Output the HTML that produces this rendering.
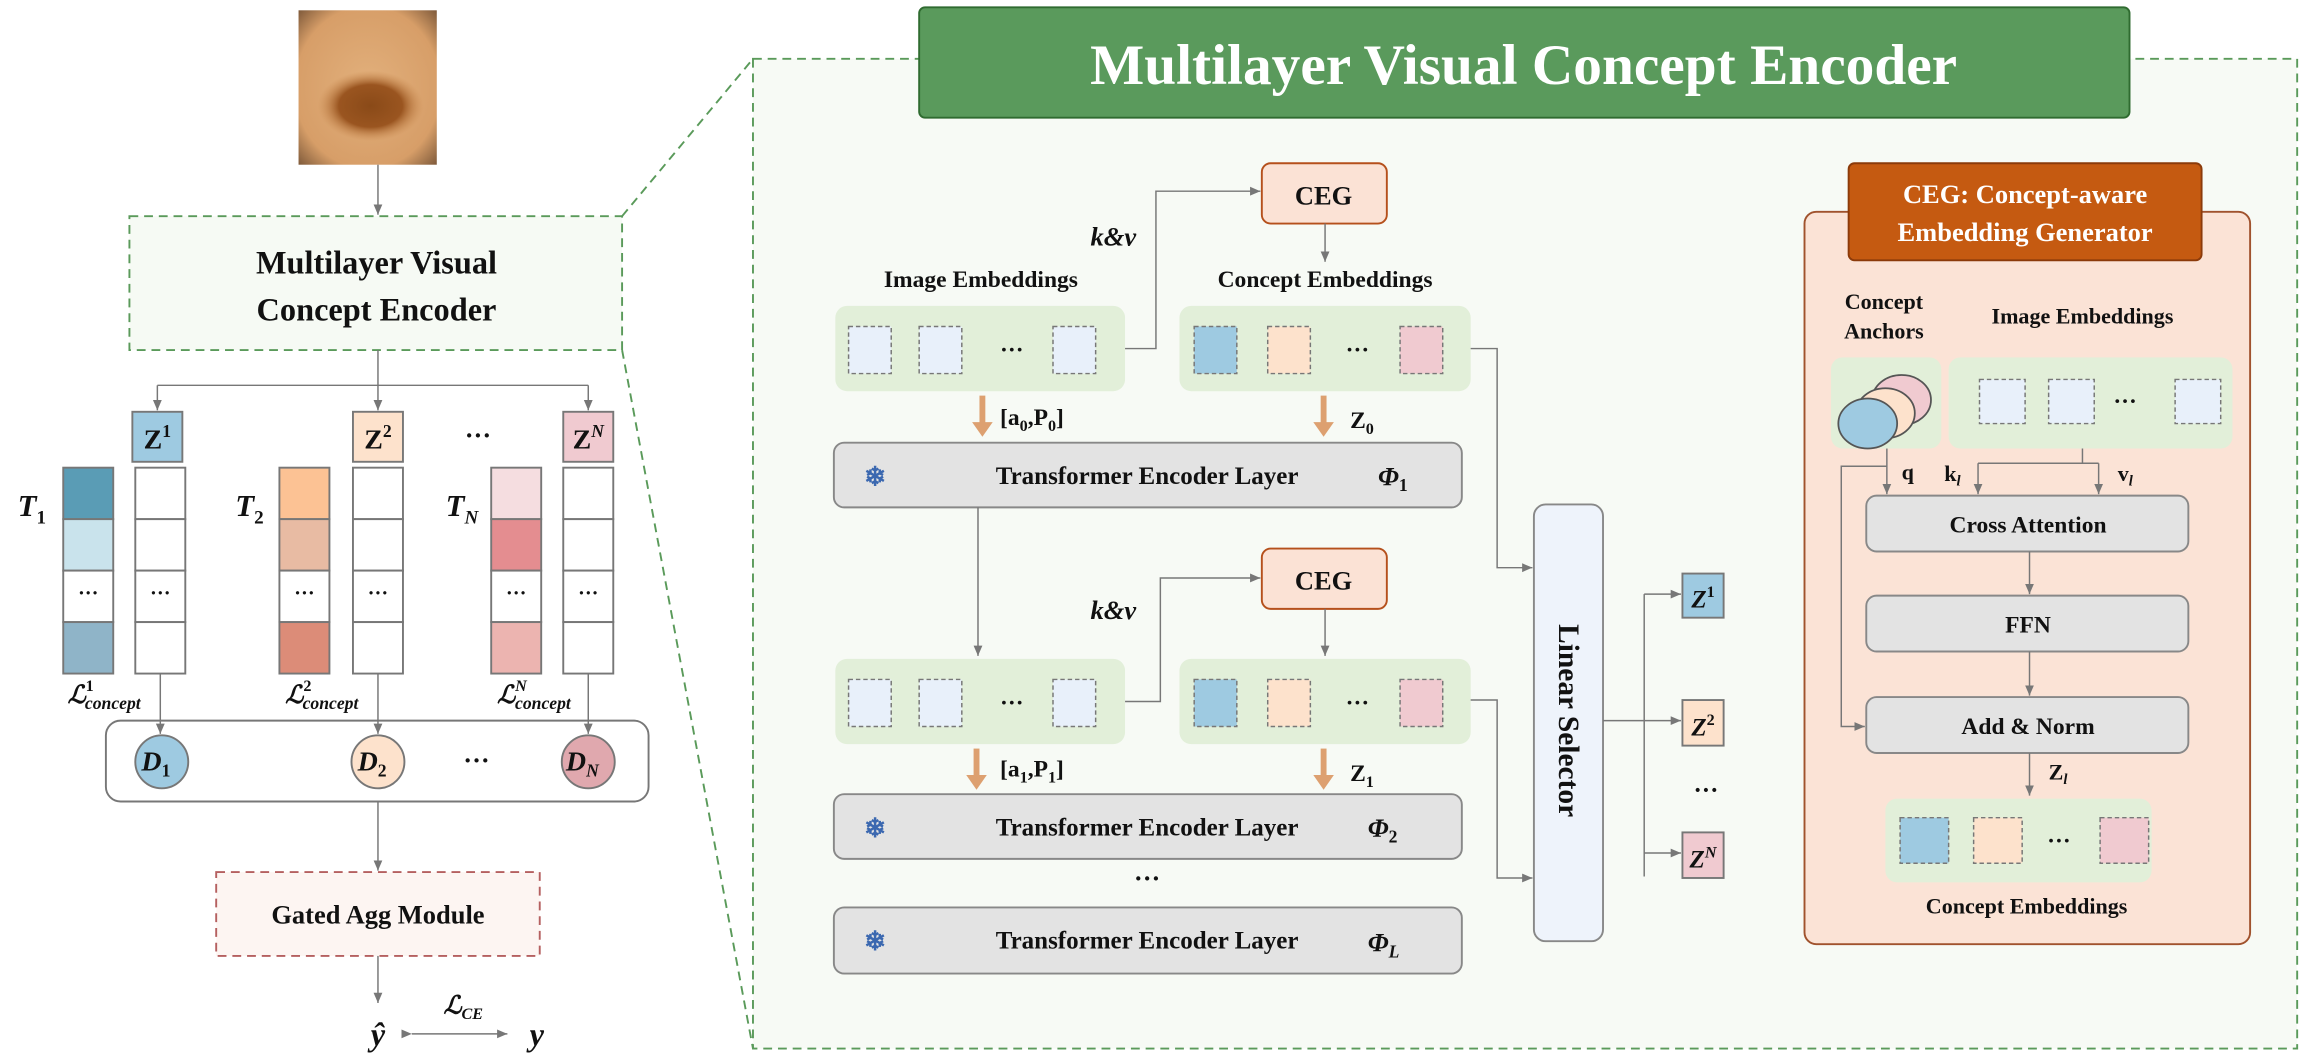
<!DOCTYPE html>
<html><head><meta charset="utf-8"><style>
html,body{margin:0;padding:0;background:#fff;}
svg{display:block;}
text{font-family:"Liberation Serif",serif;font-weight:bold;fill:#111;}
.it{font-style:italic;}
</style></head><body>
<svg width="2306" height="1058" viewBox="0 0 1568 719.4" xmlns="http://www.w3.org/2000/svg">
<defs>
<marker id="a" markerWidth="8" markerHeight="8" refX="7" refY="4" orient="auto" markerUnits="userSpaceOnUse"><path d="M0,1 L7,4 L0,7 z" fill="#777"/></marker>
<radialGradient id="skin" cx="0.5" cy="0.5" r="0.75">
<stop offset="0" stop-color="#e2b07c"/><stop offset="0.7" stop-color="#d79e68"/><stop offset="1" stop-color="#6a4a30"/></radialGradient>
<radialGradient id="spot" cx="0.5" cy="0.5" r="0.5">
<stop offset="0" stop-color="#8a4a18"/><stop offset="0.6" stop-color="#9a5520"/><stop offset="1" stop-color="#c98a50" stop-opacity="0"/></radialGradient>
</defs>

<rect x="512" y="40" width="1050" height="673" fill="#f7faf5" stroke="#5a9a5a" stroke-width="1.3" stroke-dasharray="6,4"/>
<line x1="423" y1="147" x2="512" y2="40" stroke="#5a9a5a" stroke-width="1.3" stroke-dasharray="6,4"/>
<line x1="423" y1="238" x2="512" y2="713" stroke="#5a9a5a" stroke-width="1.3" stroke-dasharray="6,4"/>

<rect x="203" y="7" width="94" height="105" fill="url(#skin)"/>
<ellipse cx="252" cy="72" rx="36" ry="24" fill="url(#spot)"/>
<line x1="257" y1="112" x2="257" y2="146" stroke="#777" marker-end="url(#a)"/>

<rect x="88" y="147" width="335" height="91" fill="#f6faf4" stroke="#5a9a5a" stroke-width="1.3" stroke-dasharray="6,4"/>
<text x="256" y="186" font-size="22" text-anchor="middle">Multilayer Visual</text>
<text x="256" y="218" font-size="22" text-anchor="middle">Concept Encoder</text>

<path d="M257,238 V262 M107,262 H400" stroke="#777" fill="none"/>
<line x1="107" y1="262" x2="107" y2="279" stroke="#777" marker-end="url(#a)"/>
<line x1="257" y1="262" x2="257" y2="279" stroke="#777" marker-end="url(#a)"/>
<line x1="400" y1="262" x2="400" y2="279" stroke="#777" marker-end="url(#a)"/>

<rect x="90" y="280" width="34" height="34" fill="#9ecae1" stroke="#777" stroke-width="1.3"/>
<text x="107" y="305" font-size="19" text-anchor="middle">Z<tspan font-size="12" dy="-8">1</tspan></text>
<rect x="240" y="280" width="34" height="34" fill="#fde2cc" stroke="#777" stroke-width="1.3"/>
<text x="257" y="305" font-size="19" text-anchor="middle">Z<tspan font-size="12" dy="-8">2</tspan></text>
<rect x="383" y="280" width="34" height="34" fill="#f0cad0" stroke="#777" stroke-width="1.3"/>
<text x="400" y="305" font-size="19" text-anchor="middle">Z<tspan font-size="12" dy="-8" class="it">N</tspan></text>
<text x="325" y="302" font-size="18" text-anchor="middle">···</text>

<g stroke="#777" stroke-width="1.3">
<rect x="43" y="318" width="34" height="35" fill="#5a9cb5"/><rect x="43" y="353" width="34" height="35" fill="#c9e3ec"/><rect x="43" y="388" width="34" height="35" fill="#fff"/><rect x="43" y="423" width="34" height="35" fill="#8fb4c8"/>
<rect x="92" y="318" width="34" height="35" fill="#fff"/><rect x="92" y="353" width="34" height="35" fill="#fff"/><rect x="92" y="388" width="34" height="35" fill="#fff"/><rect x="92" y="423" width="34" height="35" fill="#fff"/>
<rect x="190" y="318" width="34" height="35" fill="#fcc294"/><rect x="190" y="353" width="34" height="35" fill="#e8bba3"/><rect x="190" y="388" width="34" height="35" fill="#fff"/><rect x="190" y="423" width="34" height="35" fill="#dc8c78"/>
<rect x="240" y="318" width="34" height="35" fill="#fff"/><rect x="240" y="353" width="34" height="35" fill="#fff"/><rect x="240" y="388" width="34" height="35" fill="#fff"/><rect x="240" y="423" width="34" height="35" fill="#fff"/>
<rect x="334" y="318" width="34" height="35" fill="#f5dde0"/><rect x="334" y="353" width="34" height="35" fill="#e48d90"/><rect x="334" y="388" width="34" height="35" fill="#fff"/><rect x="334" y="423" width="34" height="35" fill="#ecb4b0"/>
<rect x="383" y="318" width="34" height="35" fill="#fff"/><rect x="383" y="353" width="34" height="35" fill="#fff"/><rect x="383" y="388" width="34" height="35" fill="#fff"/><rect x="383" y="423" width="34" height="35" fill="#fff"/>
</g>
<g font-size="14" text-anchor="middle">
<text x="60" y="408">···</text><text x="109" y="408">···</text><text x="207" y="408">···</text><text x="257" y="408">···</text><text x="351" y="408">···</text><text x="400" y="408">···</text>
</g>
<text x="12" y="351" font-size="21" class="it">T<tspan font-size="13" dy="5" font-style="normal">1</tspan></text>
<text x="160" y="351" font-size="21" class="it">T<tspan font-size="13" dy="5" font-style="normal">2</tspan></text>
<text x="303" y="351" font-size="21" class="it">T<tspan font-size="13" dy="5">N</tspan></text>
<text x="46" y="478" font-size="17" class="it">ℒ<tspan font-size="11" dy="-8" font-style="normal">1</tspan><tspan font-size="12" dx="-6" dy="12">concept</tspan></text>
<text x="194" y="478" font-size="17" class="it">ℒ<tspan font-size="11" dy="-8" font-style="normal">2</tspan><tspan font-size="12" dx="-6" dy="12">concept</tspan></text>
<text x="338" y="478" font-size="17" class="it">ℒ<tspan font-size="11" dy="-8">N</tspan><tspan font-size="12" dx="-8" dy="12">concept</tspan></text>

<rect x="72" y="490" width="369" height="55" rx="10" fill="#fff" stroke="#777" stroke-width="1.3"/>
<line x1="109" y1="458" x2="109" y2="499" stroke="#777" marker-end="url(#a)"/>
<line x1="257" y1="458" x2="257" y2="499" stroke="#777" marker-end="url(#a)"/>
<line x1="400" y1="458" x2="400" y2="499" stroke="#777" marker-end="url(#a)"/>
<ellipse cx="110" cy="518" rx="18" ry="18" fill="#9ecae1" stroke="#777" stroke-width="1.3"/>
<ellipse cx="257" cy="518" rx="18" ry="18" fill="#fde2cc" stroke="#777" stroke-width="1.3"/>
<ellipse cx="400" cy="518" rx="18" ry="18" fill="#e0a8ae" stroke="#777" stroke-width="1.3"/>
<text x="106" y="524" font-size="19" text-anchor="middle" class="it">D<tspan font-size="12" dy="4" font-style="normal">1</tspan></text>
<text x="253" y="524" font-size="19" text-anchor="middle" class="it">D<tspan font-size="12" dy="4" font-style="normal">2</tspan></text>
<text x="396" y="524" font-size="19" text-anchor="middle" class="it">D<tspan font-size="12" dy="4">N</tspan></text>
<text x="324" y="523" font-size="18" text-anchor="middle">···</text>

<line x1="257" y1="545" x2="257" y2="592" stroke="#777" marker-end="url(#a)"/>
<rect x="147" y="593" width="220" height="57" fill="#fdf5f2" stroke="#b56060" stroke-width="1.3" stroke-dasharray="6,4"/>
<text x="257" y="628" font-size="18" text-anchor="middle">Gated Agg Module</text>
<line x1="257" y1="650" x2="257" y2="682" stroke="#777" marker-end="url(#a)"/>
<text x="257" y="711" font-size="22" text-anchor="middle" class="it">ŷ</text>
<text x="365" y="711" font-size="22" text-anchor="middle" class="it">y</text>
<line x1="280" y1="703" x2="345" y2="703" stroke="#777" marker-start="url(#a)" marker-end="url(#a)"/>
<text x="315" y="689" font-size="17" text-anchor="middle" class="it">ℒ<tspan font-size="11" dy="4">CE</tspan></text>

<rect x="625" y="5" width="823" height="75" rx="4" fill="#5a9a5c" stroke="#2f6b30" stroke-width="1.3"/>
<text x="1036" y="57" font-size="39" text-anchor="middle" style="fill:#fff">Multilayer Visual Concept Encoder</text>

<text x="667" y="195" font-size="16" text-anchor="middle">Image Embeddings</text>
<text x="901" y="195" font-size="16" text-anchor="middle">Concept Embeddings</text>
<text x="757" y="167" font-size="18" text-anchor="middle" class="it">k&amp;v</text>
<text x="757" y="421" font-size="18" text-anchor="middle" class="it">k&amp;v</text>

<g id="row1">
<rect x="568" y="208" width="197" height="58" rx="8" fill="#e2efd9"/>
<rect x="802" y="208" width="198" height="58" rx="8" fill="#e2efd9"/>
<g stroke="#777" stroke-dasharray="3,2" stroke-width="1">
<rect x="577" y="222" width="29" height="32" fill="#e8f0fa"/><rect x="625" y="222" width="29" height="32" fill="#e8f0fa"/><rect x="716" y="222" width="29" height="32" fill="#e8f0fa"/>
<rect x="812" y="222" width="29" height="32" fill="#9ecae1"/><rect x="862" y="222" width="29" height="32" fill="#fde2cc"/><rect x="952" y="222" width="29" height="32" fill="#f0cad0"/>
</g>
<text x="688" y="243" font-size="16" text-anchor="middle">···</text>
<text x="923" y="243" font-size="16" text-anchor="middle">···</text>
</g>
<use href="#row1" transform="translate(0,240)"/>

<rect x="858" y="111" width="85" height="41" rx="6" fill="#fbe2d5" stroke="#b5501c" stroke-width="1.3"/>
<text x="900" y="139" font-size="18" text-anchor="middle">CEG</text>
<rect x="858" y="373" width="85" height="41" rx="6" fill="#fbe2d5" stroke="#b5501c" stroke-width="1.3"/>
<text x="900" y="401" font-size="18" text-anchor="middle">CEG</text>
<path d="M765,237 H786 V130 H857" stroke="#777" fill="none" marker-end="url(#a)"/>
<path d="M765,477 H789 V393 H857" stroke="#777" fill="none" marker-end="url(#a)"/>
<line x1="901" y1="152" x2="901" y2="178" stroke="#777" marker-end="url(#a)"/>
<line x1="901" y1="414" x2="901" y2="446" stroke="#777" marker-end="url(#a)"/>

<g stroke="#dda070" stroke-width="4">
<line x1="668" y1="269" x2="668" y2="288"/><line x1="900" y1="269" x2="900" y2="288"/>
<line x1="664" y1="509" x2="664" y2="528"/><line x1="900" y1="509" x2="900" y2="528"/>
</g>
<g fill="#dda070">
<path d="M661,287 L675,287 L668,297z"/><path d="M893,287 L907,287 L900,297z"/>
<path d="M657,527 L671,527 L664,537z"/><path d="M893,527 L907,527 L900,537z"/>
</g>
<text x="680" y="289" font-size="16">[a<tspan font-size="11" dy="4">0</tspan><tspan dy="-4">,P</tspan><tspan font-size="11" dy="4">0</tspan><tspan dy="-4">]</tspan></text>
<text x="918" y="291" font-size="16">Z<tspan font-size="11" dy="4">0</tspan></text>
<text x="680" y="528" font-size="16">[a<tspan font-size="11" dy="4">1</tspan><tspan dy="-4">,P</tspan><tspan font-size="11" dy="4">1</tspan><tspan dy="-4">]</tspan></text>
<text x="918" y="531" font-size="16">Z<tspan font-size="11" dy="4">1</tspan></text>

<g stroke="#888" stroke-width="1.3" fill="#e3e3e3">
<rect x="567" y="301" width="427" height="44" rx="7"/>
<rect x="567" y="540" width="427" height="44" rx="7"/>
<rect x="567" y="617" width="427" height="45" rx="7"/>
</g>
<g font-size="17" text-anchor="middle">
<text x="780" y="329">Transformer Encoder Layer</text>
<text x="780" y="568">Transformer Encoder Layer</text>
<text x="780" y="645">Transformer Encoder Layer</text>
</g>
<g font-size="18" text-anchor="middle">
<text x="595" y="330" style="fill:#3b68b0">❄</text><text x="595" y="569" style="fill:#3b68b0">❄</text><text x="595" y="646" style="fill:#3b68b0">❄</text>
</g>
<text x="937" y="330" font-size="18" class="it">Φ<tspan font-size="12" dy="4" font-style="normal">1</tspan></text>
<text x="930" y="569" font-size="18" class="it">Φ<tspan font-size="12" dy="4" font-style="normal">2</tspan></text>
<text x="930" y="647" font-size="18" class="it">Φ<tspan font-size="12" dy="4">L</tspan></text>
<text x="780" y="603" font-size="18" text-anchor="middle">···</text>
<line x1="665" y1="345" x2="665" y2="446" stroke="#777" marker-end="url(#a)"/>

<path d="M1000,237 H1018 V386 H1042" stroke="#777" fill="none" marker-end="url(#a)"/>
<path d="M1000,476 H1018 V597 H1042" stroke="#777" fill="none" marker-end="url(#a)"/>
<rect x="1043" y="343" width="47" height="297" rx="8" fill="#eef3fb" stroke="#888" stroke-width="1.3"/>
<text transform="translate(1060,490) rotate(90)" font-size="20" text-anchor="middle">Linear Selector</text>
<path d="M1090,490 H1118 M1118,404 V596" stroke="#777" fill="none"/>
<line x1="1118" y1="404" x2="1143" y2="404" stroke="#777" marker-end="url(#a)"/>
<line x1="1118" y1="490" x2="1143" y2="490" stroke="#777" marker-end="url(#a)"/>
<line x1="1118" y1="580" x2="1143" y2="580" stroke="#777" marker-end="url(#a)"/>
<rect x="1144" y="390" width="28" height="30" fill="#9ecae1" stroke="#777" stroke-width="1.3"/>
<rect x="1144" y="476" width="28" height="31" fill="#fde2cc" stroke="#777" stroke-width="1.3"/>
<rect x="1144" y="566" width="28" height="31" fill="#f0cad0" stroke="#777" stroke-width="1.3"/>
<text x="1158" y="413" font-size="17" text-anchor="middle" class="it">Z<tspan font-size="11" dy="-7" font-style="normal">1</tspan></text>
<text x="1158" y="500" font-size="17" text-anchor="middle" class="it">Z<tspan font-size="11" dy="-7" font-style="normal">2</tspan></text>
<text x="1158" y="590" font-size="17" text-anchor="middle" class="it">Z<tspan font-size="11" dy="-7">N</tspan></text>
<text x="1160" y="543" font-size="17" text-anchor="middle">···</text>

<rect x="1227" y="144" width="303" height="498" rx="8" fill="#fbe3d6" stroke="#a0522d" stroke-width="1.3"/>
<rect x="1257" y="111" width="240" height="66" rx="4" fill="#c55a11" stroke="#8b3a0a" stroke-width="1.3"/>
<text x="1377" y="138" font-size="18" text-anchor="middle" style="fill:#fff">CEG: Concept-aware</text>
<text x="1377" y="164" font-size="18" text-anchor="middle" style="fill:#fff">Embedding Generator</text>
<text x="1281" y="210" font-size="15" text-anchor="middle">Concept</text>
<text x="1281" y="230" font-size="15" text-anchor="middle">Anchors</text>
<text x="1416" y="220" font-size="15" text-anchor="middle">Image Embeddings</text>
<rect x="1245" y="243" width="75" height="62" rx="8" fill="#e2efd9"/>
<rect x="1325" y="243" width="193" height="62" rx="8" fill="#e2efd9"/>
<g stroke="#555" stroke-width="1.2">
<ellipse cx="1293" cy="272" rx="20" ry="17" fill="#f0cad0"/>
<ellipse cx="1282" cy="281" rx="20" ry="17" fill="#fde2cc"/>
<ellipse cx="1270" cy="288" rx="20" ry="17" fill="#9ecae1"/>
</g>
<g stroke="#777" stroke-dasharray="3,2" stroke-width="1">
<rect x="1346" y="258" width="31" height="30" fill="#e8f0fa"/><rect x="1393" y="258" width="31" height="30" fill="#e8f0fa"/><rect x="1479" y="258" width="31" height="30" fill="#e8f0fa"/>
</g>
<text x="1445" y="278" font-size="16" text-anchor="middle">···</text>
<line x1="1283" y1="305" x2="1283" y2="336" stroke="#777" marker-end="url(#a)"/>
<text x="1293" y="326" font-size="15">q</text>
<path d="M1283,317 H1252 V494 H1268" stroke="#777" fill="none" marker-end="url(#a)"/>
<path d="M1416,305 V315 M1345,315 H1427" stroke="#777" fill="none"/>
<line x1="1345" y1="315" x2="1345" y2="336" stroke="#777" marker-end="url(#a)"/>
<line x1="1427" y1="315" x2="1427" y2="336" stroke="#777" marker-end="url(#a)"/>
<text x="1322" y="327" font-size="15">k<tspan font-size="10" dy="3" class="it">l</tspan></text>
<text x="1440" y="327" font-size="15">v<tspan font-size="10" dy="3" class="it">l</tspan></text>
<g stroke="#888" stroke-width="1.3" fill="#e3e3e3">
<rect x="1269" y="337" width="219" height="38" rx="7"/>
<rect x="1269" y="405" width="219" height="38" rx="7"/>
<rect x="1269" y="474" width="219" height="38" rx="7"/>
</g>
<g font-size="16" text-anchor="middle">
<text x="1379" y="362">Cross Attention</text>
<text x="1379" y="430">FFN</text>
<text x="1379" y="499">Add &amp; Norm</text>
</g>
<line x1="1380" y1="375" x2="1380" y2="404" stroke="#777" marker-end="url(#a)"/>
<line x1="1380" y1="443" x2="1380" y2="473" stroke="#777" marker-end="url(#a)"/>
<line x1="1380" y1="512" x2="1380" y2="541" stroke="#777" marker-end="url(#a)"/>
<text x="1393" y="530" font-size="15">Z<tspan font-size="10" dy="3" class="it">l</tspan></text>
<rect x="1282" y="543" width="181" height="57" rx="8" fill="#e2efd9"/>
<g stroke="#777" stroke-dasharray="3,2" stroke-width="1">
<rect x="1292" y="556" width="33" height="31" fill="#9ecae1"/><rect x="1342" y="556" width="33" height="31" fill="#fde2cc"/><rect x="1428" y="556" width="33" height="31" fill="#f0cad0"/>
</g>
<text x="1400" y="577" font-size="16" text-anchor="middle">···</text>
<text x="1378" y="621" font-size="15" text-anchor="middle">Concept Embeddings</text>
</svg>
</body></html>
